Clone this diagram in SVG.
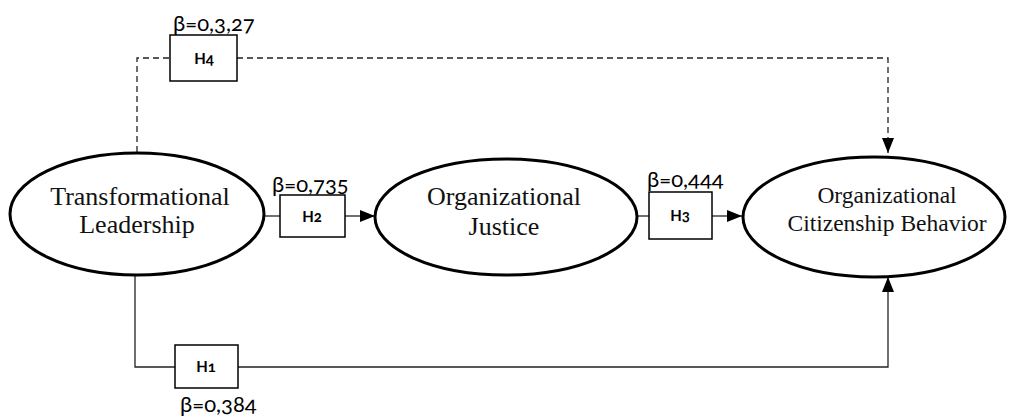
<svg xmlns="http://www.w3.org/2000/svg" width="1015" height="416" viewBox="0 0 1015 416">
<style>
.ell{fill:#fff;stroke:#000;stroke-width:3}
.box{fill:#fff;stroke:#000;stroke-width:1.5}
.con{fill:none;stroke:#222;stroke-width:1.3}
.dash{stroke-dasharray:6 4}
.t{font-family:"Liberation Serif","Times New Roman",serif;text-anchor:middle;fill:#111}
.h{font-family:Lato,"Open Sans","Liberation Sans",sans-serif;font-weight:bold;font-size:15px;text-anchor:middle;fill:#000;font-variant-numeric:oldstyle-nums}
.b{font-family:Lato,"Open Sans","Liberation Sans",sans-serif;font-size:22px;fill:#000;font-variant-numeric:oldstyle-nums}
</style>
<defs>
<marker id="arr" markerUnits="userSpaceOnUse" markerWidth="16" markerHeight="14" refX="15" refY="7" orient="auto">
<path d="M0,1 L15,7 L0,13 Z" fill="#000"/>
</marker>
</defs>
<g id="connectors">
<path class="con dash" d="M137,152 V58 H170"/>
<path class="con dash" d="M237,58 H888 V153" marker-end="url(#arr)"/>
<path class="con" d="M265,216 H280"/>
<path class="con" d="M345,216 H375" marker-end="url(#arr)"/>
<path class="con" d="M638,216 H649"/>
<path class="con" d="M712,216 H742" marker-end="url(#arr)"/>
<path class="con" d="M135,275 V367 H175"/>
<path class="con" d="M238,367 H888 V277" marker-end="url(#arr)"/>
</g>
<g id="tl">
<ellipse class="ell" cx="137" cy="214" rx="127" ry="61"/>
<text class="t" x="140" y="205" font-size="26">Transformational</text>
<text class="t" x="137" y="233" font-size="26">Leadership</text>
</g>
<g id="oj">
<ellipse class="ell" cx="506" cy="217" rx="131" ry="58"/>
<text class="t" x="504" y="205" font-size="26">Organizational</text>
<text class="t" x="504" y="235" font-size="26">Justice</text>
</g>
<g id="ocb">
<ellipse class="ell" cx="874" cy="217" rx="131" ry="60"/>
<text class="t" x="887" y="203" font-size="23.5">Organizational</text>
<text class="t" x="887" y="231" font-size="23.5">Citizenship Behavior</text>
</g>
<g id="h4">
<rect class="box" x="170" y="35" width="67" height="46"/>
<text class="h" x="204" y="64">H4</text>
<text class="b" x="173" y="31">β=0,3,27</text>
</g>
<g id="h2">
<rect class="box" x="280" y="195" width="65" height="42"/>
<text class="h" x="312" y="222">H2</text>
<text class="b" x="272" y="192">β=0,735</text>
</g>
<g id="h3">
<rect class="box" x="649" y="192" width="63" height="47"/>
<text class="h" x="680" y="221">H3</text>
<text class="b" x="647" y="187">β=0,444</text>
</g>
<g id="h1">
<rect class="box" x="175" y="345" width="63" height="43"/>
<text class="h" x="206" y="372">H1</text>
<text class="b" x="180" y="412">β=0,384</text>
</g>
</svg>
